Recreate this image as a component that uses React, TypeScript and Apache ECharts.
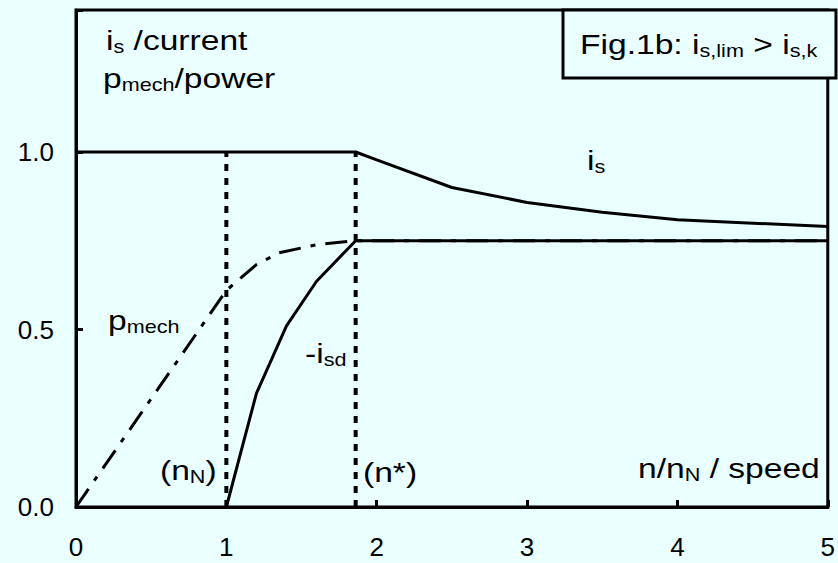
import React, { useEffect, useRef } from "react";
import * as echarts from "echarts";

// speed axis values (n/n_N) and per-unit curves
const isX = [0, 1.86, 2.0, 2.5, 3.0, 3.5, 4.0, 5.0];
const isY = [1.0, 1.0, 0.978, 0.9, 0.858, 0.83, 0.809, 0.79];

const isdX = [1.0, 1.2, 1.4, 1.6, 1.86, 5.0];
const isdY = [0.0, 0.32, 0.51, 0.636, 0.75, 0.75];

const pX = [0, 0.5, 1.0, 1.2, 1.35, 1.6, 1.86, 5.0];
const pY = [0, 0.305, 0.61, 0.683, 0.716, 0.739, 0.75, 0.75];

const nN = 1.0;
const nStar = 1.86;
const markerTop = 1.0;

const xTicks = [0, 1, 2, 3, 4, 5];
const yTickLabels = [0, 0.5, 1.0];

const BG = "#eaffff";
const FONT = "Liberation Sans, Arial, sans-serif";

const zip = (xs: number[], ys: number[]) => xs.map((x, i) => [x, ys[i]]);

export default function App() {
  const ref = useRef<HTMLDivElement>(null);
  useEffect(() => {
    document.body.style.margin = "0";
    const chart = echarts.init(ref.current!, null, { renderer: "svg" });
    const main = { fontSize: 28, lineHeight: 32, fontFamily: FONT, color: "#000" };
    const sub = { fontSize: 18, lineHeight: 16, verticalAlign: "bottom", fontFamily: FONT, color: "#000" };
    const rich = { m: main, s: sub };
    const txt = (text: string, x: number, y: number) => ({
      type: "text",
      x,
      y,
      scaleX: 1.2,
      z: 100,
      style: { text, rich, fill: "#000", font: `28px ${FONT}`, verticalAlign: "middle", align: "left" },
    });
    const solid = { color: "#000", width: 3 };
    const dotted = { color: "#000", width: 4, type: [7, 7], cap: "butt" };
    chart.setOption({
      animation: false,
      backgroundColor: BG,
      grid: { left: 76, right: 3, top: 10, bottom: 56, show: true, borderColor: "#000", borderWidth: 3 },
      xAxis: {
        type: "value",
        min: 0,
        max: 5,
        interval: 1,
        splitLine: { show: false },
        axisLine: { show: true, lineStyle: { color: "#000", width: 3 } },
        axisTick: { show: true, inside: true, length: 7, lineStyle: { color: "#000", width: 3 } },
        axisLabel: {
          margin: 27,
          fontSize: 26,
          fontFamily: FONT,
          color: "#000",
          formatter: (v: number) => (xTicks.includes(v) ? String(v) : ""),
        },
      },
      yAxis: {
        type: "value",
        min: 0,
        max: 1.4,
        interval: 0.5,
        splitLine: { show: false },
        axisLine: { show: true, lineStyle: { color: "#000", width: 3 } },
        axisTick: { show: true, inside: true, length: 7, lineStyle: { color: "#000", width: 3 } },
        axisLabel: {
          margin: 22,
          fontSize: 26,
          fontFamily: FONT,
          color: "#000",
          formatter: (v: number) => (yTickLabels.some((t) => Math.abs(t - v) < 1e-9) ? v.toFixed(1) : ""),
        },
      },
      series: [
        {
          type: "line",
          data: zip(pX, pY),
          symbol: "none",
          lineStyle: { color: "#000", width: 3, type: [22, 10, 5, 10], cap: "butt" },
          z: 2,
        },
        { type: "line", data: [[nN, 0], [nN, markerTop]], symbol: "none", lineStyle: dotted, z: 2 },
        { type: "line", data: [[nStar, 0], [nStar, markerTop]], symbol: "none", lineStyle: dotted, z: 2 },
        { type: "line", data: zip(isdX, isdY), symbol: "none", lineStyle: solid, z: 3 },
        { type: "line", data: zip(isX, isY), symbol: "none", lineStyle: solid, z: 3 },
      ],
      graphic: [
        {
          type: "rect",
          shape: { x: 563, y: 10, width: 273, height: 68 },
          style: { fill: BG, stroke: "#000", lineWidth: 3 },
          z: 90,
        },
        txt("{m|Fig.1b: i}{s|s,lim}{m| > i}{s|s,k}", 580, 44),
        txt("{m|i}{s|s}{m| /current}", 106, 40),
        txt("{m|p}{s|mech}{m|/power}", 103, 78),
        txt("{m|i}{s|s}", 587, 160),
        txt("{m|p}{s|mech}", 108, 320),
        txt("{m|-i}{s|sd}", 305, 353),
        txt("{m|(n}{s|N}{m|)}", 160, 470),
        txt("{m|(n*)}", 363, 472),
        txt("{m|n/n}{s|N}{m| / speed}", 638, 468),
      ],
    });
    return () => chart.dispose();
  }, []);
  return <div ref={ref} style={{ width: 838, height: 563 }} />;
}
